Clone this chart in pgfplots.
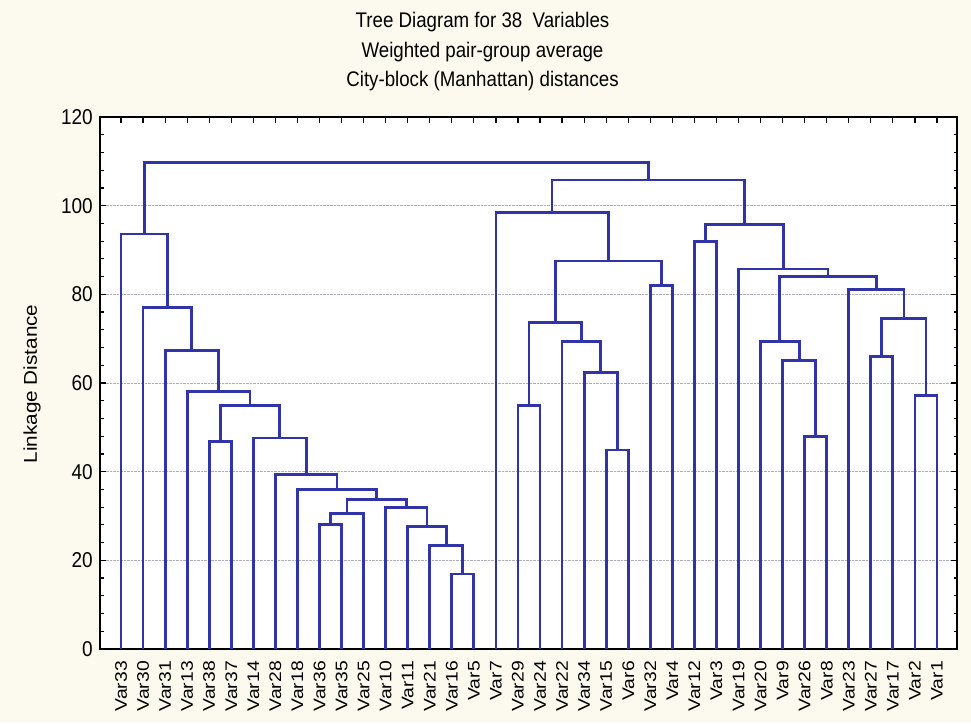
\documentclass[border=0pt]{standalone}
\usepackage{fontspec}
\setmainfont{Liberation Sans}
\usepackage{graphicx}
\usepackage{pgfplots}
\pgfplotsset{compat=1.18}
\definecolor{bgc}{RGB}{252,250,238}
\definecolor{dblue}{RGB}{48,52,168}
\definecolor{gridc}{RGB}{175,175,185}
\newcommand{\vl}[1]{\scalebox{1.15}[1]{#1}}
\begin{document}
\begin{tikzpicture}
\fill[bgc] (0,0) rectangle (971pt,722pt);
\begin{axis}[
  at={(100pt,73pt)}, anchor=south west,
  scale only axis, width=857pt, height=532pt,
  xmin=0.048, xmax=38.908, ymin=0, ymax=120,
  axis background/.style={fill=white},
  axis line style={black, line width=1.8pt},
  tick style={black, line width=1.2pt},
  major tick length=6pt, minor tick length=3.5pt,
  tick align=inside,
  xtick={1,...,38},
  xticklabels={\vl{Var33},\vl{Var30},\vl{Var31},\vl{Var13},\vl{Var38},\vl{Var37},\vl{Var14},\vl{Var28},\vl{Var18},\vl{Var36},\vl{Var35},\vl{Var25},\vl{Var10},\vl{Var11},\vl{Var21},\vl{Var16},\vl{Var5},\vl{Var7},\vl{Var29},\vl{Var24},\vl{Var22},\vl{Var34},\vl{Var15},\vl{Var6},\vl{Var32},\vl{Var4},\vl{Var12},\vl{Var3},\vl{Var19},\vl{Var20},\vl{Var9},\vl{Var26},\vl{Var8},\vl{Var23},\vl{Var27},\vl{Var17},\vl{Var2},\vl{Var1}},
  xticklabel style={font=\fontsize{16.8}{18}\selectfont, rotate=90, anchor=east, inner xsep=12pt, inner ysep=0pt},
  ytick={0,20,...,120},
  minor y tick num=4,
  /pgf/number format/assume math mode=true,
  yticklabel={\scalebox{1}[1.13]{\pgfmathprintnumber{\tick}}},
  yticklabel style={font=\fontsize{19}{21}\selectfont, anchor=east, inner xsep=7pt},
  ymajorgrids,
  major grid style={densely dotted, gridc, line width=1pt},
  dend/.style={no markers, line width=2.8pt, color=dblue, line join=miter},
]
% left cluster
\addplot[dend] coordinates {(16,0) (16,16.9) (17,16.9) (17,0)};
\addplot[dend] coordinates {(15,0) (15,23.3) (16.5,23.3) (16.5,16.9)};
\addplot[dend] coordinates {(14,0) (14,27.7) (15.75,27.7) (15.75,23.3)};
\addplot[dend] coordinates {(13,0) (13,32.0) (14.875,32.0) (14.875,27.7)};
\addplot[dend] coordinates {(10,0) (10,28.1) (11,28.1) (11,0)};
\addplot[dend] coordinates {(10.5,28.1) (10.5,30.6) (12,30.6) (12,0)};
\addplot[dend] coordinates {(11.25,30.6) (11.25,33.7) (13.9375,33.7) (13.9375,32.0)};
\addplot[dend] coordinates {(9,0) (9,35.9) (12.594,35.9) (12.594,33.7)};
\addplot[dend] coordinates {(8,0) (8,39.4) (10.797,39.4) (10.797,35.9)};
\addplot[dend] coordinates {(7,0) (7,47.6) (9.398,47.6) (9.398,39.4)};
\addplot[dend] coordinates {(5,0) (5,46.8) (6,46.8) (6,0)};
\addplot[dend] coordinates {(5.5,46.8) (5.5,55.0) (8.199,55.0) (8.199,47.6)};
\addplot[dend] coordinates {(4,0) (4,58.0) (6.850,58.0) (6.850,55.0)};
\addplot[dend] coordinates {(3,0) (3,67.3) (5.425,67.3) (5.425,58.0)};
\addplot[dend] coordinates {(2,0) (2,77.1) (4.212,77.1) (4.212,67.3)};
\addplot[dend] coordinates {(1,0) (1,93.6) (3.106,93.6) (3.106,77.1)};
% right cluster
\addplot[dend] coordinates {(19,0) (19,55.0) (20,55.0) (20,0)};
\addplot[dend] coordinates {(23,0) (23,44.9) (24,44.9) (24,0)};
\addplot[dend] coordinates {(22,0) (22,62.3) (23.5,62.3) (23.5,44.9)};
\addplot[dend] coordinates {(21,0) (21,69.3) (22.75,69.3) (22.75,62.3)};
\addplot[dend] coordinates {(19.5,55.0) (19.5,73.7) (21.875,73.7) (21.875,69.3)};
\addplot[dend] coordinates {(25,0) (25,82.0) (26,82.0) (26,0)};
\addplot[dend] coordinates {(20.6875,73.7) (20.6875,87.5) (25.5,87.5) (25.5,82.0)};
\addplot[dend] coordinates {(18,0) (18,98.4) (23.094,98.4) (23.094,87.5)};
\addplot[dend] coordinates {(27,0) (27,91.9) (28,91.9) (28,0)};
\addplot[dend] coordinates {(32,0) (32,48.0) (33,48.0) (33,0)};
\addplot[dend] coordinates {(31,0) (31,65.0) (32.5,65.0) (32.5,48.0)};
\addplot[dend] coordinates {(30,0) (30,69.3) (31.75,69.3) (31.75,65.0)};
\addplot[dend] coordinates {(35,0) (35,65.9) (36,65.9) (36,0)};
\addplot[dend] coordinates {(37,0) (37,57.1) (38,57.1) (38,0)};
\addplot[dend] coordinates {(35.5,65.9) (35.5,74.6) (37.5,74.6) (37.5,57.1)};
\addplot[dend] coordinates {(34,0) (34,81.0) (36.5,81.0) (36.5,74.6)};
\addplot[dend] coordinates {(30.875,69.3) (30.875,84.0) (35.25,84.0) (35.25,81.0)};
\addplot[dend] coordinates {(29,0) (29,85.7) (33.0625,85.7) (33.0625,84.0)};
\addplot[dend] coordinates {(27.5,91.9) (27.5,95.8) (31.031,95.8) (31.031,85.7)};
\addplot[dend] coordinates {(20.547,98.4) (20.547,105.8) (29.266,105.8) (29.266,95.8)};
% root
\addplot[dend] coordinates {(2.053,93.6) (2.053,109.8) (24.906,109.8) (24.906,105.8)};
\end{axis}
\node[font=\fontsize{18.7}{20}\selectfont, anchor=base] at (482.5pt,694pt) {\scalebox{1}[1.13]{Tree Diagram for 38\ \ Variables}};
\node[font=\fontsize{18.7}{20}\selectfont, anchor=base] at (482.5pt,664pt) {\scalebox{1}[1.13]{Weighted pair-group average}};
\node[font=\fontsize{18.7}{20}\selectfont, anchor=base] at (482.5pt,635pt) {\scalebox{1}[1.13]{City-block (Manhattan) distances}};
\node[font=\fontsize{18.5}{20}\selectfont, rotate=90, anchor=center] at (32pt,338pt) {\scalebox{1.12}[1]{Linkage Distance}};
\end{tikzpicture}
\end{document}
